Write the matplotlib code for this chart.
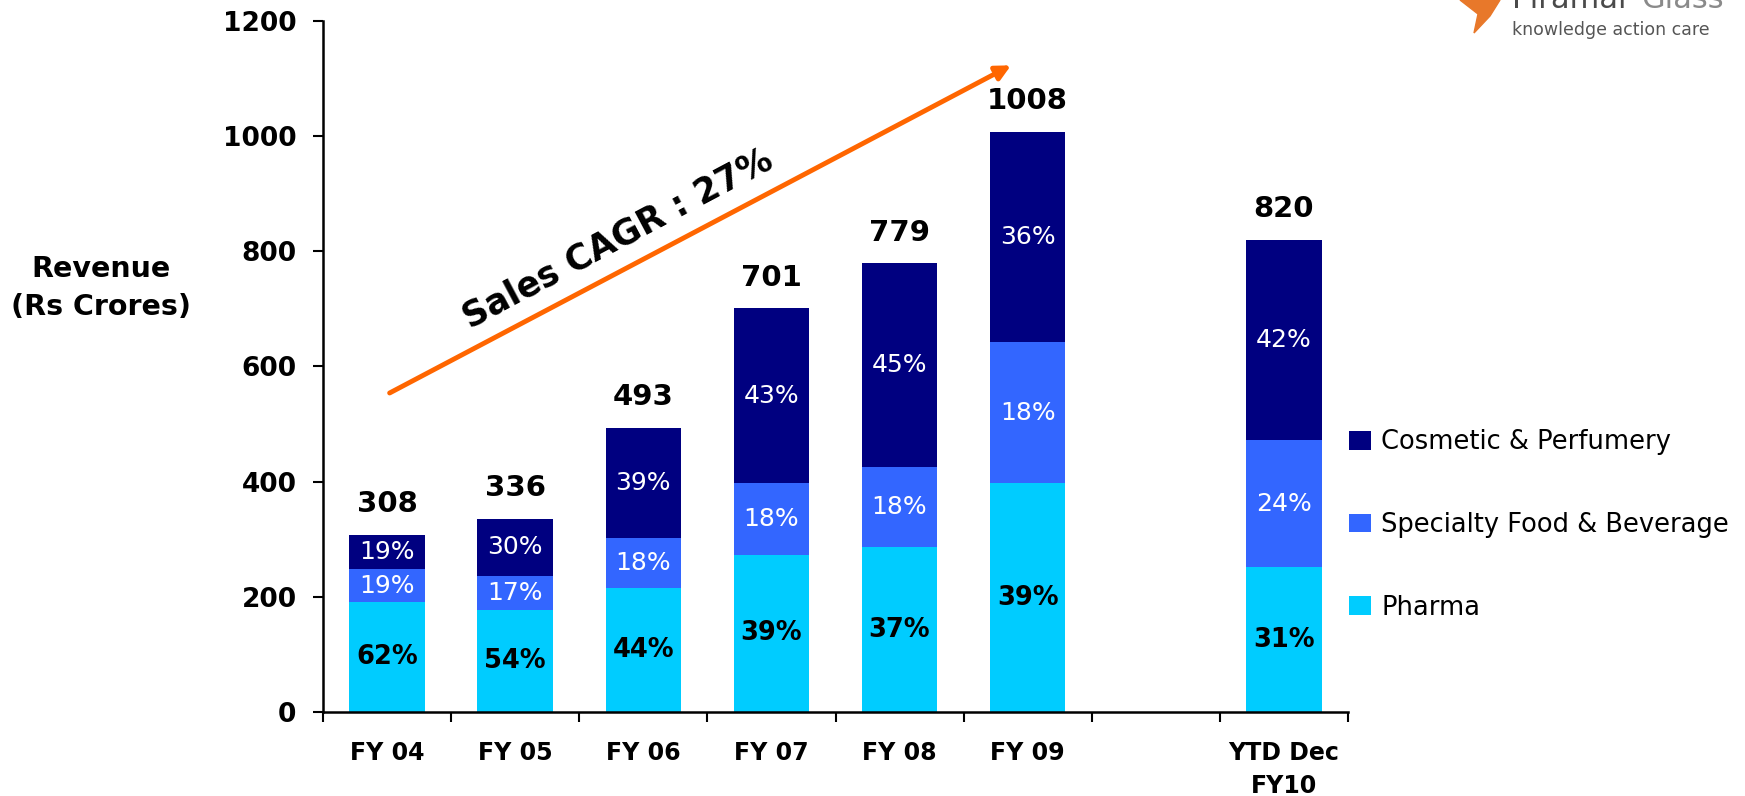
import numpy as np
import matplotlib.pyplot as plt
from matplotlib.patches import Polygon

# revenue split (Rs crores); empty slot is the gap before YTD
categories = ['FY 04', 'FY 05', 'FY 06', 'FY 07', 'FY 08', 'FY 09', '', 'YTD Dec\nFY10']
pharma = [191, 177, 215, 273, 286, 397, np.nan, 251]
specialty = [57, 59, 87, 124, 139, 245, np.nan, 222]
cosmetic = [60, 100, 191, 304, 354, 366, np.nan, 347]
totals = [308, 336, 493, 701, 779, 1008, np.nan, 820]

pharma_pct = ['62%', '54%', '44%', '39%', '37%', '39%', '', '31%']
specialty_pct = ['19%', '17%', '18%', '18%', '18%', '18%', '', '24%']
cosmetic_pct = ['19%', '30%', '39%', '43%', '45%', '36%', '', '42%']

yticks = [0, 200, 400, 600, 800, 1000, 1200]

plt.rcParams['font.family'] = 'DejaVu Sans'

fig = plt.figure(figsize=(17.45, 7.96), dpi=100)
ax = fig.add_axes([323 / 1745, 84 / 796, 1025 / 1745, 691 / 796])

x = np.arange(len(categories))
ph = np.array(pharma, dtype=float)
sp = np.array(specialty, dtype=float)
co = np.array(cosmetic, dtype=float)
w = 0.59

ax.bar(x, ph, w, color='#00CCFF', label='Pharma')
ax.bar(x, sp, w, bottom=ph, color='#3366FF', label='Specialty Food & Beverage')
ax.bar(x, co, w, bottom=ph + sp, color='#000080', label='Cosmetic & Perfumery')

for i in range(len(x)):
    if np.isnan(totals[i]):
        continue
    ax.text(x[i], ph[i] / 2, pharma_pct[i], ha='center', va='center',
            fontsize=18.5, fontweight='bold', color='black')
    ax.text(x[i], ph[i] + sp[i] / 2, specialty_pct[i], ha='center', va='center',
            fontsize=18, color='white')
    ax.text(x[i], ph[i] + sp[i] + co[i] / 2, cosmetic_pct[i], ha='center', va='center',
            fontsize=18, color='white')
    ax.annotate(str(int(totals[i])), (x[i], totals[i]), xytext=(0, 12),
                textcoords='offset points', ha='center', va='bottom',
                fontsize=21, fontweight='bold')

# growth arrow
ax.annotate('', xy=(4.87, 1123), xytext=(0.02, 554),
            arrowprops=dict(arrowstyle='-|>', color='#FF6600', lw=3.5,
                            mutation_scale=22, shrinkA=0, shrinkB=0))
ax.text(1.8, 822, 'Sales CAGR : 27%', rotation=28, rotation_mode='anchor',
        ha='center', va='center', fontsize=25, fontweight='bold')

ax.set_xlim(-0.5, 7.5)
ax.set_ylim(0, 1200)
ax.set_yticks(yticks)
ax.tick_params(axis='y', length=7, width=1.5, pad=12, labelsize=19)
for lbl in ax.get_yticklabels():
    lbl.set_fontweight('bold')

ax.set_xticks(np.arange(-0.5, 8, 1))
ax.set_xticklabels([])
ax.set_xticks(x, minor=True)
ax.set_xticklabels(categories, minor=True, fontsize=17, fontweight='bold')
ax.tick_params(axis='x', which='major', length=7, width=1.5)
ax.tick_params(axis='x', which='minor', length=0, pad=21)
for lbl in ax.get_xticklabels(minor=True):
    lbl.set_linespacing(1.45)

for s in ['top', 'right']:
    ax.spines[s].set_visible(False)
for s in ['left', 'bottom']:
    ax.spines[s].set_linewidth(1.8)

fig.text(101 / 1745, 1 - 288 / 796, 'Revenue\n(Rs Crores)', ha='center', va='center',
         fontsize=20.5, fontweight='bold', linespacing=1.45)

handles, labels = ax.get_legend_handles_labels()
fig.legend(handles[::-1], labels[::-1], loc='center left',
           bbox_to_anchor=(1349 / 1745, 1 - 525 / 796), frameon=False,
           fontsize=18.5, borderpad=0, borderaxespad=0, labelspacing=2.2,
           handlelength=0.85, handleheight=0.75, handletextpad=0.4)

# logo bits in the corner
fig.text(1512 / 1745, 1 - 8 / 796, 'Piramal', color='#4a4a4a', fontsize=22, va='baseline')
fig.text(1724 / 1745, 1 - 8 / 796, 'Glass', color='#8a8a8a', fontsize=22,
         va='baseline', ha='right')
fig.text(1512 / 1745, 1 - 30 / 796, 'knowledge action care', color='#555555',
         fontsize=12.5, va='center')
flame = [(1460, 0), (1500, 0), (1490, 16), (1474, 33), (1478, 14)]
fig.patches.append(Polygon([(px / 1745, 1 - py / 796) for px, py in flame], closed=True,
                           color='#E8782A', transform=fig.transFigure, figure=fig))

fig.savefig('out.png', dpi=100)
